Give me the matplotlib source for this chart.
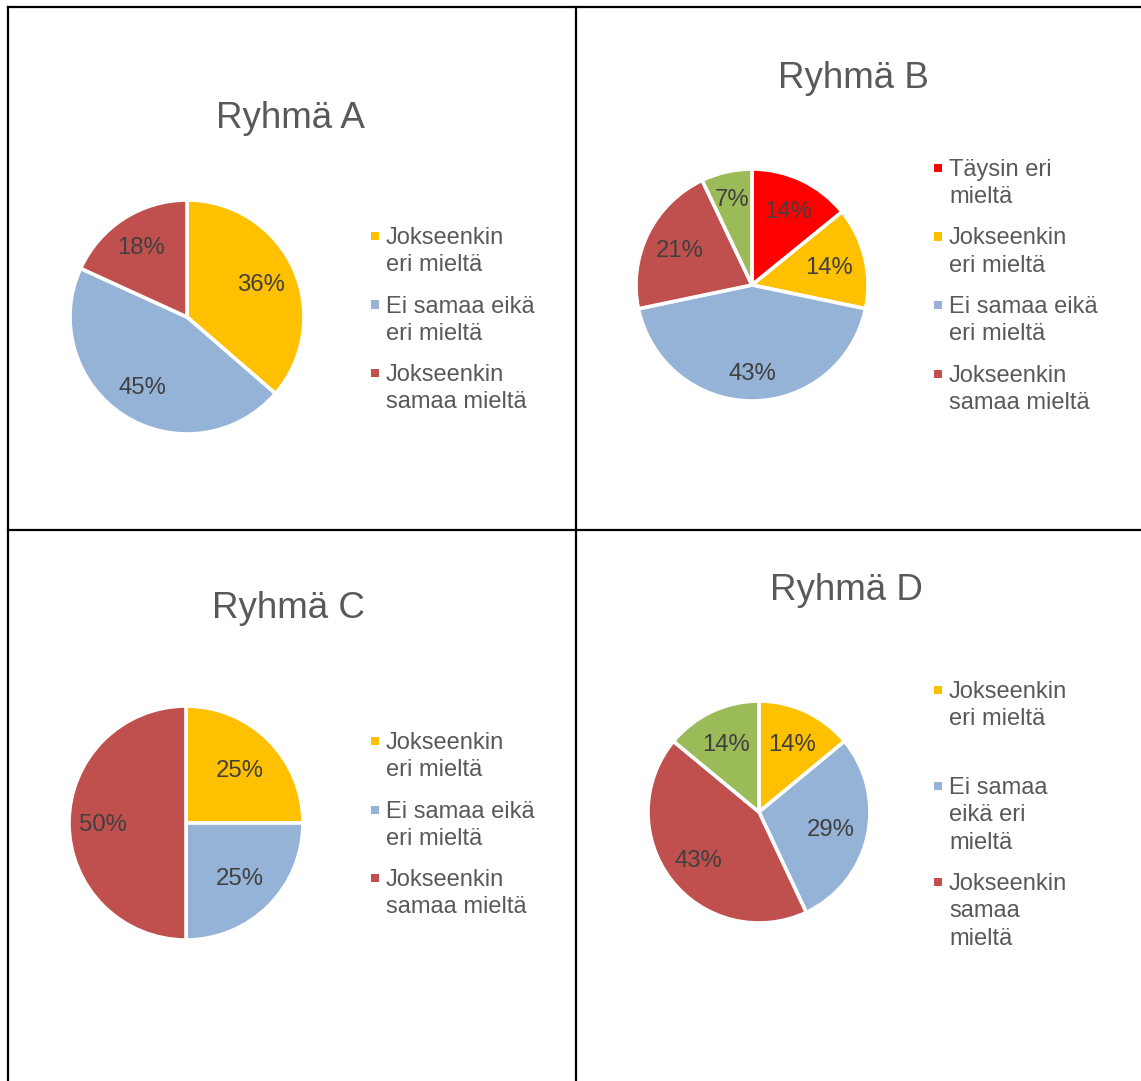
import numpy as np
import matplotlib
matplotlib.use("Agg")
import matplotlib.pyplot as plt
from matplotlib.lines import Line2D
from matplotlib.patches import Rectangle

plt.rcParams['font.family'] = ['Liberation Sans', 'DejaVu Sans']

W, H, DPI = 1141, 1081, 100

# Colours of the answer categories
YELLOW = "#FFC000"
BLUE = "#95B3D7"
BROWN = "#C0504D"
GREEN = "#9BBB59"
RED = "#FF0000"

# Group A
a_values = [36, 45, 18]
a_colors = [YELLOW, BLUE, BROWN]
a_legend = ["Jokseenkin\neri mieltä", "Ei samaa eikä\neri mieltä", "Jokseenkin\nsamaa mieltä"]

# Group B
b_values = [14, 14, 43, 21, 7]
b_colors = [RED, YELLOW, BLUE, BROWN, GREEN]
b_legend = ["Täysin eri\nmieltä", "Jokseenkin\neri mieltä", "Ei samaa eikä\neri mieltä",
            "Jokseenkin\nsamaa mieltä"]
b_legend_colors = [RED, YELLOW, BLUE, BROWN]

# Group C
c_values = [25, 25, 50]
c_colors = [YELLOW, BLUE, BROWN]
c_legend = ["Jokseenkin\neri mieltä", "Ei samaa eikä\neri mieltä", "Jokseenkin\nsamaa mieltä"]

# Group D
d_values = [14, 29, 43, 14]
d_colors = [YELLOW, BLUE, BROWN, GREEN]
d_legend = ["Jokseenkin\neri mieltä", "Ei samaa\neikä eri\nmieltä", "Jokseenkin\nsamaa\nmieltä"]
d_legend_colors = [YELLOW, BLUE, BROWN]

TITLE_COLOR = "#595959"
LABEL_COLOR = "#404040"

fig = plt.figure(figsize=(W / DPI, H / DPI), dpi=DPI)
fig.patch.set_facecolor("white")


def fx(px):
    return px / W


def fy(py):
    return 1 - py / H


def draw_pie(title, title_xy, values, colors, center, radius, dists):
    cx, cy = center
    ax = fig.add_axes([fx(cx - radius), fy(cy + radius), 2 * radius / W, 2 * radius / H])
    wedges, _ = ax.pie(values, colors=colors, startangle=90, counterclock=False,
                       radius=1, wedgeprops=dict(edgecolor="white", linewidth=2.6))
    ax.set_xlim(-1, 1)
    ax.set_ylim(-1, 1)
    ax.axis("off")
    shift = 2 / radius
    for w, v, d in zip(wedges, values, dists):
        ang = np.deg2rad((w.theta1 + w.theta2) / 2)
        ax.text(d * np.cos(ang), d * np.sin(ang) - shift, f"{v}%", ha="center", va="center",
                fontsize=17.2, color=LABEL_COLOR)
    fig.text(fx(title_xy[0]), fy(title_xy[1] + 1), title, ha="center", va="center",
             fontsize=26.5, color=TITLE_COLOR)


def draw_legend(labels, colors, mx, tx, y0, slot_lines):
    line_h = 27.4
    y = y0
    for lab, col in zip(labels, colors):
        fig.patches.append(Rectangle((fx(mx - 4), fy(y + 4)), 8 / W, 8 / H,
                                     transform=fig.transFigure, facecolor=col,
                                     edgecolor="none"))
        for i, line in enumerate(lab.split("\n")):
            fig.text(fx(tx), fy(y + 2 + i * line_h), line, ha="left", va="center",
                     fontsize=17, color=TITLE_COLOR)
        y += slot_lines * line_h


draw_pie("Ryhmä A", (290, 118), a_values, a_colors, (187, 317), 117, [0.70, 0.70, 0.72])
draw_legend(a_legend, a_colors, 375, 386, 236, 2.5)

draw_pie("Ryhmä B", (853, 78), b_values, b_colors, (752, 285), 116,
         [0.72, 0.68, 0.75, 0.70, 0.77])
draw_legend(b_legend, b_legend_colors, 938, 949, 168, 2.5)

draw_pie("Ryhmä C", (289, 607), c_values, c_colors, (186, 823), 117, [0.65, 0.65, 0.71])
draw_legend(c_legend, c_colors, 375, 386, 741, 2.5)

draw_pie("Ryhmä D", (846, 590), d_values, d_colors, (759, 812), 111, [0.69, 0.66, 0.69, 0.69])
draw_legend(d_legend, d_legend_colors, 938, 949, 690, 3.5)

# Table grid lines around the four charts
lw = 1.6
for xs, ys in [((8, W), (7, 7)), ((8, 8), (7, H)), ((575.5, 575.5), (7, H)), ((8, W), (530, 530))]:
    fig.lines.append(Line2D([fx(x) for x in xs], [fy(y) for y in ys], transform=fig.transFigure,
                            color="black", linewidth=lw))

fig.savefig("out.png", dpi=DPI, facecolor="white")
